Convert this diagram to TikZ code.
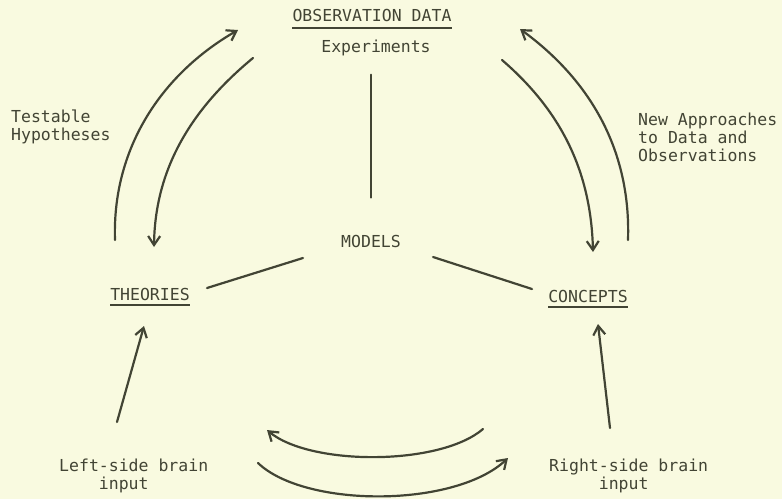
\documentclass[tikz,border=0pt]{standalone}
\usepackage{fontspec}
\setmonofont{DejaVu Sans Mono}
\usetikzlibrary{arrows.meta}
\definecolor{bgc}{RGB}{249,250,224}
\definecolor{ink}{RGB}{66,68,52}
\begin{document}
\begin{tikzpicture}[x=1pt,y=-1pt,
  txt/.style={inner sep=0pt,text=ink,font=\ttfamily\fontsize{16.5}{18}\selectfont},
  ln/.style={draw=ink,line width=2.2pt,line cap=round},
  arr/.style={ln,-{Straight Barb[length=9pt,width=12pt]}},
  ul/.style={draw=ink,line width=1.6pt}]
\fill[bgc] (0,0) rectangle (782,499);
\useasboundingbox (0,0) rectangle (782,499);

% text nodes
\node[txt,anchor=base] (obs) at (372,21.5) {OBSERVATION DATA};
\node[txt,anchor=base] (exp) at (376,52) {Experiments};
\node[txt,anchor=base] (models) at (371,247) {MODELS};
\node[txt,anchor=base] (theories) at (150,300) {THEORIES};
\node[txt,anchor=base] (concepts) at (588,302) {CONCEPTS};
\node[txt,anchor=north west,align=left] (testable) at (11,109.5) {Testable\\Hypotheses};
\node[txt,anchor=north west,align=left] (newapp) at (638,112.5) {New Approaches\\to Data and\\Observations};
\node[txt,anchor=north west,align=left] (leftin) at (59,458.5) {Left-side brain\\\phantom{Left}input};
\node[txt,anchor=north west,align=left] (rightin) at (549,458.5) {Right-side brain\\\phantom{Right}input};

% underlines
\draw[ul] ([yshift=-6.5pt]obs.base west) -- ([yshift=-6.5pt]obs.base east);
\draw[ul] ([yshift=-5pt]theories.base west) -- ([yshift=-5pt]theories.base east);
\draw[ul] ([yshift=-5pt]concepts.base west) -- ([yshift=-5pt]concepts.base east);

% models connections
\draw[ln,shorten <=19pt,shorten >=37pt] (exp.south -| models.north) -- (models.north);
\coordinate (mt1) at (303,258);
\coordinate (mt2) at (207,288);
\coordinate (mc1) at (433,257);
\coordinate (mc2) at (532,289);
\draw[ln] (mt1) -- (mt2);
\draw[ln] (mc1) -- (mc2);

% left pair of arcs
\coordinate (lo1) at (115,240);
\coordinate (lo2) at (238,30);
\coordinate (li1) at (253,58);
\coordinate (li2) at (154,247);
\draw[arr] (lo1) .. controls (112,150) and (160,75) .. (lo2);
\draw[arr] (li1) .. controls (190,110) and (155,170) .. (li2);

% right pair of arcs
\coordinate (ro1) at (628,240);
\coordinate (ro2) at (520,29);
\coordinate (ri1) at (502,60);
\coordinate (ri2) at (593,252);
\draw[arr] (ro1) .. controls (631,150) and (590,80) .. (ro2);
\draw[arr] (ri1) .. controls (560,110) and (591,170) .. (ri2);

% brain inputs to theories / concepts
\coordinate (lb) at (117,422);
\coordinate (lt) at (144,326);
\coordinate (rb) at (610,428);
\coordinate (rt) at (598,324);
\draw[arr] (lb) -- (lt);
\draw[arr] (rb) -- (rt);

% bottom arcs
\coordinate (bu1) at (483,429);
\coordinate (bu2) at (267,430);
\coordinate (bl1) at (258,463);
\coordinate (bl2) at (508,458);
\draw[arr] (bu1) .. controls (440,466) and (310,466) .. (bu2);
\draw[arr] (bl1) .. controls (305,508) and (455,508) .. (bl2);
\end{tikzpicture}
\end{document}
